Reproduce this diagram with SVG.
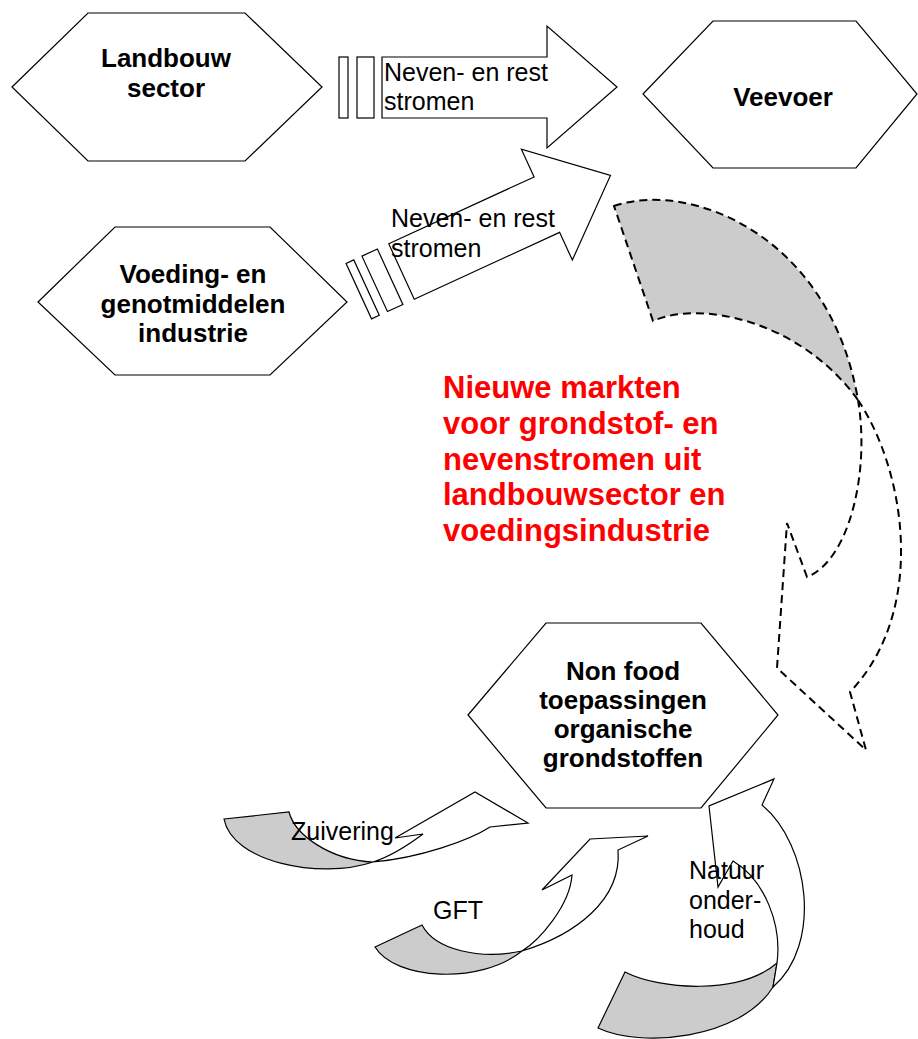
<svg xmlns="http://www.w3.org/2000/svg" width="918" height="1039" viewBox="0 0 918 1039">
<style>
.hex{fill:#ffffff;stroke:#000;stroke-width:1.2}
.lbl{font-family:"Liberation Sans",Arial,sans-serif;font-weight:bold;font-size:26px;fill:#000;text-anchor:middle}
.txt{font-family:"Liberation Sans",Arial,sans-serif;font-size:25px;fill:#000}
.red{font-family:"Liberation Sans",Arial,sans-serif;font-weight:bold;font-size:31px;fill:#ff0000}
.arr{fill:#ffffff;stroke:#000;stroke-width:1.2;stroke-linejoin:miter}
.gray{fill:#cccccc;stroke:#000;stroke-width:1.2}
.dash{stroke:#000;stroke-width:2;stroke-dasharray:8,5}
</style>
<rect width="918" height="1039" fill="#ffffff"/>

<g id="connectors">
  <g id="arrow-landbouw-veevoer">
    <rect class="arr" x="339" y="57" width="9" height="61"/>
    <rect class="arr" x="357" y="57" width="17" height="61"/>
    <polygon class="arr" points="382,57 547,57 547,26 617,87 547,148 547,118 382,118"/>
    <text class="txt" x="384" y="81">Neven- en rest</text>
    <text class="txt" x="384" y="110">stromen</text>
  </g>
  <g id="arrow-voeding-veevoer">
    <g transform="translate(401.5,271.5) rotate(-24.7)">
      <rect class="arr" x="-47" y="-30.5" width="8.5" height="61"/>
      <rect class="arr" x="-29.5" y="-30.5" width="17" height="61"/>
      <polygon class="arr" points="0,-30.5 160,-30.5 160,-61 230,0 160,61 160,30.5 0,30.5"/>
    </g>
    <text class="txt" x="391" y="227">Neven- en rest</text>
    <text class="txt" x="391" y="257">stromen</text>
  </g>
  <g id="arrow-veevoer-nonfood">
    <path class="dash" fill="#cccccc" d="M614,206 C690,180 830,235 858,400 C800,320 700,300 653,321 Z"/>
    <path class="dash" fill="none" d="M858,400 C905,470 928,610 850,692 L866,750 L777,668 L787,523 L807,577 C850,560 870,470 858,400"/>
  </g>
  <g id="arrow-zuivering">
    <path class="gray" d="M224,819 L289,812 C295,835 330,860 373,862 C320,880 232,862 224,819 Z"/>
    <path class="arr" d="M373,862 Q395,855 423,834 L395,838 L475,792 L528,823 L490,827 C470,840 420,858 373,862 Z"/>
    <text class="txt" x="291" y="840">Zuivering</text>
  </g>
  <g id="arrow-gft">
    <path class="gray" d="M375,947 L422,925 C435,950 480,960 522,951 C480,985 395,980 375,947 Z"/>
    <path class="arr" d="M522,951 C540,940 570,905 572,875 L542,890 L590,839 L648,836 L618,850 C622,900 575,935 522,951 Z"/>
    <text class="txt" x="433" y="919">GFT</text>
  </g>
  <g id="arrow-natuur">
    <path class="gray" d="M625,972 C660,990 740,995 777,963 L773,987 C740,1040 640,1048 598,1028 Z"/>
    <path class="arr" d="M777,963 C782,925 765,880 733,861 L718,887 L709,806 L774,779 L762,805 C810,845 822,945 773,987 Z"/>
    <text class="txt" x="689" y="879">Natuur</text>
    <text class="txt" x="689" y="909">onder-</text>
    <text class="txt" x="689" y="938">houd</text>
  </g>
</g>

<g id="node-landbouw">
  <polygon class="hex" points="12,87 88,13 245,13 322,87 245,161 88,161"/>
  <text class="lbl" x="166" y="67">Landbouw</text>
  <text class="lbl" x="166" y="97">sector</text>
</g>
<g id="node-voeding">
  <polygon class="hex" points="38,302 115,227 270,227 347,302 270,375 115,375"/>
  <text class="lbl" x="193" y="283">Voeding- en</text>
  <text class="lbl" x="193" y="313">genotmiddelen</text>
  <text class="lbl" x="193" y="342">industrie</text>
</g>
<g id="node-veevoer">
  <polygon class="hex" points="643,94 713,21 856,21 917,94 856,168 713,168"/>
  <text class="lbl" x="783" y="106">Veevoer</text>
</g>
<g id="node-nonfood">
  <polygon class="hex" points="468,715 546,623 701,623 778,715 701,808 546,808"/>
  <text class="lbl" x="623" y="680">Non food</text>
  <text class="lbl" x="623" y="709">toepassingen</text>
  <text class="lbl" x="623" y="738">organische</text>
  <text class="lbl" x="623" y="767">grondstoffen</text>
</g>
<g id="title">
  <text class="red" x="443" y="398">Nieuwe markten</text>
  <text class="red" x="443" y="434">voor grondstof- en</text>
  <text class="red" x="443" y="470">nevenstromen uit</text>
  <text class="red" x="443" y="505">landbouwsector en</text>
  <text class="red" x="443" y="541">voedingsindustrie</text>
</g>
</svg>
